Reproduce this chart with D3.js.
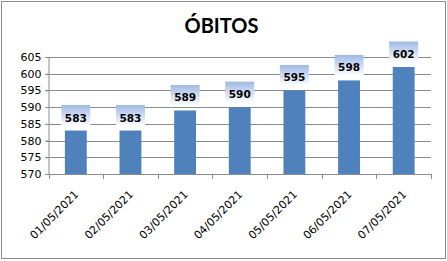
<!DOCTYPE html>
<html>
<head>
<meta charset="utf-8">
<script src="https://cdn.jsdelivr.net/npm/d3@7"></script>
<style>
  body { margin: 0; background: #fff; }
</style>
</head>
<body>
<div id="chart"></div>
<script>
"use strict";

const dates = ["01/05/2021", "02/05/2021", "03/05/2021", "04/05/2021", "05/05/2021", "06/05/2021", "07/05/2021"];
const obitos = [583, 583, 589, 590, 595, 598, 602];
const yTicks = [570, 575, 580, 585, 590, 595, 600, 605];
const title = "ÓBITOS";

const W = 447;
const H = 261;
const plot = { left: 48.5, right: 431, top: 57, bottom: 174 };

const svg = d3
  .select("#chart")
  .append("svg")
  .attr("width", W)
  .attr("height", H);

const defs = svg.append("defs");
const grad = defs
  .append("linearGradient")
  .attr("id", "labelGrad")
  .attr("x1", 0)
  .attr("y1", 0)
  .attr("x2", 0)
  .attr("y2", 1);
grad.append("stop").attr("offset", "0%").attr("stop-color", "#9fb9e4");
grad.append("stop").attr("offset", "100%").attr("stop-color", "#ffffff");

// outer frame
svg
  .append("rect")
  .attr("x", 1.5)
  .attr("y", 1.5)
  .attr("width", W - 3)
  .attr("height", H - 4)
  .attr("fill", "#fff")
  .attr("stroke", "#8c8c8c")
  .attr("stroke-width", 1);

// title
svg
  .append("text")
  .attr("x", 221.5)
  .attr("y", 33)
  .attr("text-anchor", "middle")
  .attr("font-family", "Lato, 'Liberation Sans', sans-serif")
  .attr("font-weight", "bold")
  .attr("font-size", "20px")
  .attr("fill", "#000")
  .text(title);

// scales
const y = d3.scaleLinear().domain([570, 605]).range([plot.bottom, plot.top]);
const x = d3
  .scaleBand()
  .domain(dates)
  .range([plot.left, plot.right])
  .paddingInner(0.6)
  .paddingOuter(0.3);
const xEdges = d3.scaleBand().domain(dates).range([plot.left, plot.right]).padding(0);

// gridlines
svg
  .append("g")
  .selectAll("line")
  .data(yTicks)
  .enter()
  .append("line")
  .attr("x1", plot.left - 3)
  .attr("x2", plot.right)
  .attr("y1", (d) => Math.round(y(d)) + 0.5)
  .attr("y2", (d) => Math.round(y(d)) + 0.5)
  .attr("stroke", "#8c8c8c")
  .attr("stroke-width", 1);

// y axis
const yAxis = svg
  .append("g")
  .attr("transform", `translate(${plot.left},0)`)
  .call(d3.axisLeft(y).tickValues(yTicks).tickSize(3).tickPadding(4));
yAxis.select(".domain").attr("stroke", "#8c8c8c");
yAxis.selectAll(".tick line").attr("stroke", "#8c8c8c");
yAxis
  .selectAll(".tick text")
  .attr("font-family", "'DejaVu Sans', Verdana, sans-serif")
  .attr("font-size", "11px")
  .attr("fill", "#000");

// bars
svg
  .append("g")
  .selectAll("rect")
  .data(obitos)
  .enter()
  .append("rect")
  .attr("x", (d, i) => x(dates[i]))
  .attr("width", x.bandwidth())
  .attr("y", (d) => y(d))
  .attr("height", (d) => y(570) - y(d))
  .attr("fill", "#4f81bd");

// x axis line and tick marks at category edges
const xAxis = svg.append("g");
xAxis
  .append("line")
  .attr("x1", plot.left)
  .attr("x2", plot.right)
  .attr("y1", plot.bottom + 0.5)
  .attr("y2", plot.bottom + 0.5)
  .attr("stroke", "#8c8c8c");
const edges = dates.map((d) => xEdges(d)).concat([plot.right]);
xAxis
  .selectAll(".edge")
  .data(edges)
  .enter()
  .append("line")
  .attr("class", "edge")
  .attr("x1", (d) => Math.round(d) + 0.5)
  .attr("x2", (d) => Math.round(d) + 0.5)
  .attr("y1", plot.bottom)
  .attr("y2", plot.bottom + 5)
  .attr("stroke", "#8c8c8c");

// x labels
xAxis
  .selectAll(".xlab")
  .data(dates)
  .enter()
  .append("text")
  .attr("class", "xlab")
  .attr("text-anchor", "end")
  .attr("font-family", "'DejaVu Sans', Verdana, sans-serif")
  .attr("font-size", "11px")
  .attr("fill", "#000")
  .attr("transform", (d) => `translate(${x(d) + x.bandwidth() / 2 + 3.5},${plot.bottom + 21}) rotate(-45)`)
  .text((d) => d);

// data labels
const labels = svg
  .append("g")
  .selectAll("g")
  .data(obitos)
  .enter()
  .append("g")
  .attr("transform", (d, i) => `translate(${x(dates[i]) + x.bandwidth() / 2},${y(d)})`);
labels
  .append("rect")
  .attr("x", -14.5)
  .attr("y", -25.5)
  .attr("width", 29)
  .attr("height", 21)
  .attr("fill", "url(#labelGrad)");
labels
  .append("text")
  .attr("text-anchor", "middle")
  .attr("y", -9)
  .attr("font-family", "'DejaVu Sans', Verdana, sans-serif")
  .attr("font-weight", "bold")
  .attr("font-size", "10.5px")
  .attr("fill", "#000")
  .text((d) => d);
</script>
</body>
</html>
